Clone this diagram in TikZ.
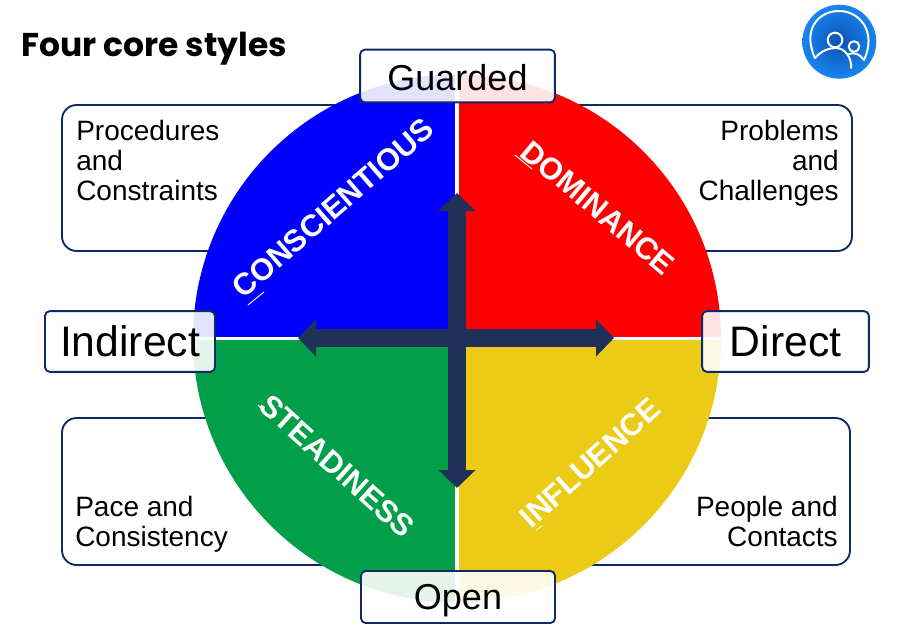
\documentclass[tikz,border=0pt]{standalone}
\usepackage{fontspec}
\setmainfont{Liberation Sans}
\newfontfamily\titlefont{Poppins}
\usetikzlibrary{arrows.meta}
\definecolor{navy}{HTML}{0B2A66}
\definecolor{arrowblue}{HTML}{1F3158}
\definecolor{qgreen}{HTML}{029E4A}
\definecolor{qyellow}{HTML}{ECCB17}
\definecolor{iconin}{HTML}{0A52B5}
\definecolor{iconout}{HTML}{1A84EE}
\tikzset{
  x=0.75pt,y=-0.75pt,
  notebox/.style={draw=navy,line width=1.4pt,fill=white,rounded corners=11pt},
  notetext/.style={inner sep=0pt,font=\fontsize{21pt}{22.7pt}\selectfont,text=black},
  axislabel/.style={draw=navy,line width=1.4pt,fill=white,fill opacity=0.89,text opacity=1,rounded corners=3.5pt,inner sep=0pt,text=black},
  quadword/.style={inner sep=0pt,text=white,font=\fontsize{23pt}{23pt}\selectfont\bfseries},
  axisarrow/.style={draw=arrowblue,line width=13.5pt,{Triangle[length=13.5pt,width=27pt]}-{Triangle[length=13.5pt,width=27pt]}},
  iconline/.style={draw=white,line width=1.5pt,line cap=round,line join=round},
}
\begin{document}
\begin{tikzpicture}
\useasboundingbox (0,0) rectangle (922,632);
\fill[white] (0,0) rectangle (922,632);

% note boxes behind the circle
\draw[notebox] (62,105) rectangle (420,251);
\draw[notebox] (500,105) rectangle (852,251);
\draw[notebox] (62,418) rectangle (420,565);
\draw[notebox] (500,418) rectangle (850,565);

% quadrants (y runs downward, so angles run clockwise)
\coordinate (c) at (457,338.5);
\fill[blue] (c) -- ++(-264,0) arc[start angle=180,end angle=270,radius=264] -- cycle;
\fill[red] (c) -- ++(0,-264) arc[start angle=270,end angle=360,radius=264] -- cycle;
\fill[qyellow] (c) -- ++(264,0) arc[start angle=0,end angle=90,radius=264] -- cycle;
\fill[qgreen] (c) -- ++(0,264) arc[start angle=90,end angle=180,radius=264] -- cycle;
\draw[white,line width=2.4pt] (457,74) -- (457,603);
\draw[white,line width=2.2pt] (193,338.5) -- (721,338.5);

% quadrant words
\node[quadword,rotate=41] (con) at (333,208) {CONSCIENTIOUS};
\node[quadword,rotate=-40] (dom) at (598,208) {DOMINANCE};
\node[quadword,rotate=-42] (ste) at (337,466) {STEADINESS};
\node[quadword,rotate=42] (inf) at (590,463) {INFLUENCE};
\draw[white,line width=0.7pt] (248,305) -- (264,292);
\draw[white,line width=0.7pt] (515,155) -- (532,169);
\draw[white,line width=0.7pt] (258,405) -- (271,419);
\draw[white,line width=0.7pt] (536,530) -- (542,526);

% arrows
\coordinate (atop) at (457,193);
\coordinate (abot) at (457,488);
\coordinate (alft) at (298,338);
\coordinate (argt) at (614,338);
\draw[axisarrow] (atop) -- (abot);
\draw[axisarrow] (alft) -- (argt);

% axis labels
\node[axislabel,minimum width=146pt,minimum height=39.5pt,font=\fontsize{27pt}{27pt}\selectfont] (g) at (457.5,76) {\rule{0pt}{22.7pt}Guarded};
\node[axislabel,minimum width=145.5pt,minimum height=39pt,font=\fontsize{27pt}{27pt}\selectfont] (o) at (458,597) {\rule{0pt}{24.3pt}Open};
\node[axislabel,minimum width=127.5pt,minimum height=45.5pt,font=\fontsize{32pt}{32pt}\selectfont] (i) at (130,341.5) {Indirect};
\node[axislabel,minimum width=125pt,minimum height=45.5pt,font=\fontsize{32pt}{32pt}\selectfont] (d) at (785.5,341.5) {Direct};

% note text
\node[notetext,align=left,anchor=north west] (t1) at (76,119.5) {Procedures\\and\\Constraints};
\node[notetext,align=right,anchor=north east] (t2) at (839,119.5) {Problems\\and\\Challenges};
\node[notetext,align=left,anchor=north west] (t3) at (75,495.5) {Pace and\\Consistency};
\node[notetext,align=right,anchor=north east] (t4) at (838,495.5) {People and\\Contacts};

% title
\node[anchor=base west,inner sep=0pt,font=\titlefont\fontsize{24.7pt}{24.7pt}\selectfont\bfseries] (title) at (21,56) {Four core styles};

% icon
\shade[inner color=iconin,outer color=iconout] (839.3,41.7) circle[radius=37];
\draw[iconline] (815,58) .. controls (802,30) and (818,11) .. (839,11) .. controls (860,11) and (877,32) .. (864,60);
\draw[iconline] (835,40) circle[radius=7.3];
\draw[iconline] (854,46.5) circle[radius=5.3];
\draw[iconline] (815,58) .. controls (822,50) and (830,48) .. (836,48) .. controls (845,48) and (852,58) .. (851,68);
\draw[iconline] (849,54) .. controls (854,52) and (860,54) .. (864,60);
\end{tikzpicture}
\end{document}
